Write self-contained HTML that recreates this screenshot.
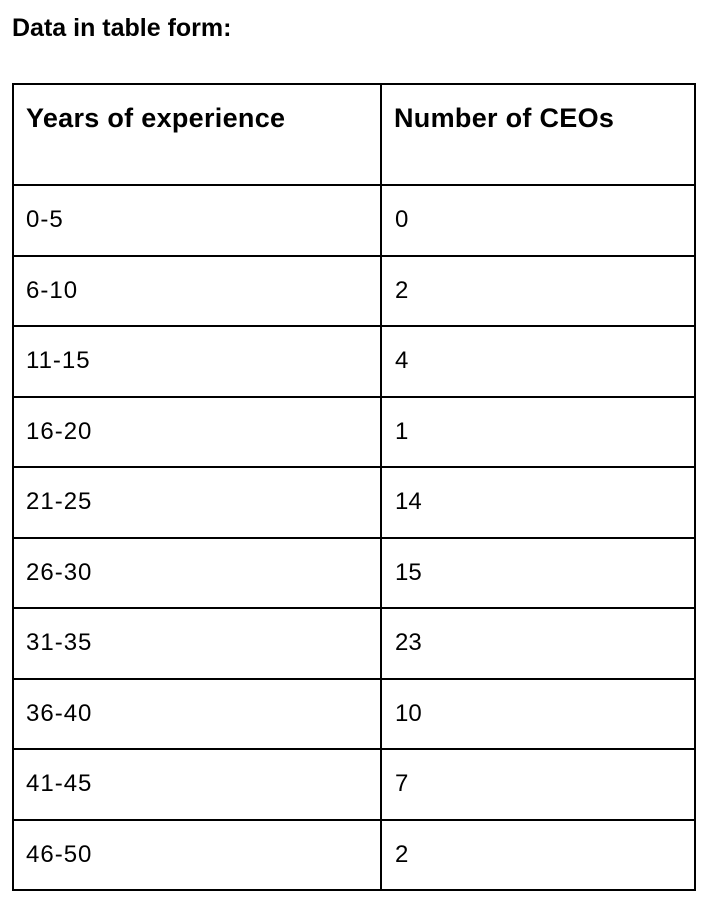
<!DOCTYPE html>
<html><head><meta charset="utf-8"><style>
body{margin:0;width:728px;height:910px;background:#fff;font-family:"Liberation Sans",sans-serif;color:#000;position:relative;overflow:hidden}
.t{position:absolute;left:12px;top:14px;font-size:25px;font-weight:bold}
.hl{position:absolute;background:#000;height:2px;left:12px;width:683px}
.vl{position:absolute;background:#000;width:2px;top:83px;height:808px}
.c{position:absolute;font-size:24px;line-height:28px;white-space:nowrap}
.h{font-weight:bold;font-size:27px;letter-spacing:0.3px}
</style></head><body>
<div class="t">Data in table form:</div>
<div id="tbl"></div>
<script>
const categories=["0-5","6-10","11-15","16-20","21-25","26-30","31-35","36-40","41-45","46-50"];
const counts=[0,2,4,1,14,15,23,10,7,2];
const headers=["Years of experience","Number of CEOs"];
const tbl=document.getElementById('tbl');
const top0=83, headH=101, rowH=70.5, colX=[12,380,694];
function add(cls,style,text){const d=document.createElement('div');d.className=cls;Object.assign(d.style,style);if(text!==undefined)d.textContent=text;tbl.appendChild(d);return d;}
for(let i=0;i<=categories.length+1;i++){
  const y=i===0?top0:top0+headH+(i-1)*rowH;
  const l=add('hl',{top:Math.round(y)+'px'});
  
  
}
colX.forEach(x=>{const l=add('vl',{left:x+'px'});
  
  });
headers.forEach((h,j)=>{const d=add('c h',{left:(colX[j]+14)+'px',top:(top0+21)+'px'},h);
  
  });
categories.forEach((c,i)=>{
  const y=top0+headH+i*rowH+rowH/2-13;
  const a=add('c',{left:'26px',top:Math.round(y)+'px',letterSpacing:'1px'},c);
  
  
  const b=add('c',{left:'395px',top:Math.round(y)+'px'},String(counts[i]));
  
  
});
</script>
</body></html>
